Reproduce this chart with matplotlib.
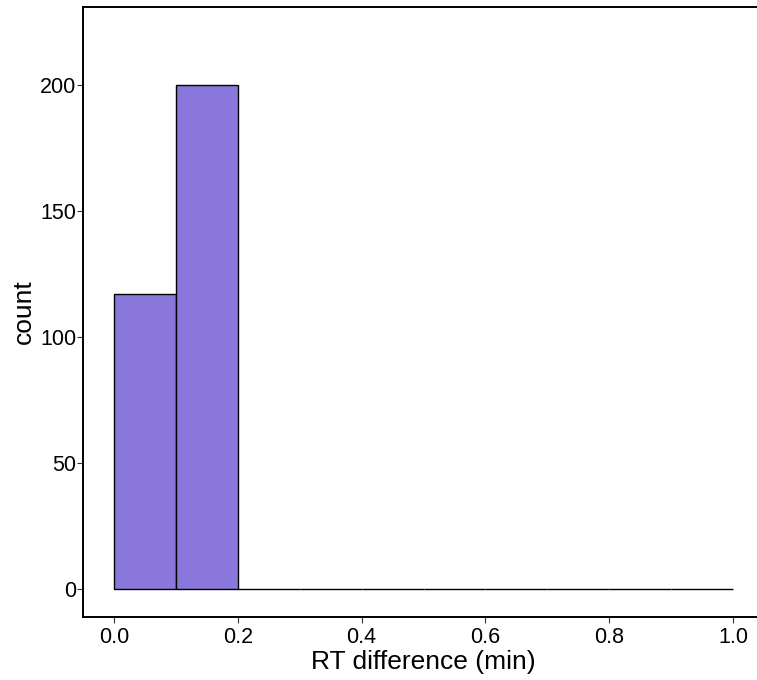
import numpy as np
import matplotlib
matplotlib.use("Agg")
import matplotlib.pyplot as plt

# histogram of RT differences, bin width 0.1 min
bin_edges = [0.0, 0.1, 0.2, 0.3, 0.4, 0.5, 0.6, 0.7, 0.8, 0.9, 1.0]
counts = [117, 200, 0, 0, 0, 0, 0, 0, 0, 0]
x_ticks = [0.0, 0.2, 0.4, 0.6, 0.8, 1.0]
y_ticks = [0, 50, 100, 150, 200]

plt.rcParams['font.family'] = ['Liberation Sans', 'DejaVu Sans']

fig = plt.figure(figsize=(7.57, 6.8), dpi=100)
ax = fig.add_axes([83 / 757, 63 / 680, 681 / 757, 610 / 680])

lefts = np.array(bin_edges[:-1])
widths = np.diff(bin_edges)
ax.bar(lefts, counts, width=widths, align='edge', color='#8a77db',
       edgecolor='black', linewidth=1.0)

ax.set_xlim(-0.05, 1.05)
ax.set_ylim(-11, 231)
ax.set_xticks(x_ticks)
ax.set_xticklabels([f"{t:.1f}" for t in x_ticks])
ax.set_yticks(y_ticks)

ax.spines['right'].set_visible(False)
for side in ['left', 'bottom', 'top']:
    ax.spines[side].set_linewidth(1.4)
    ax.spines[side].set_color('black')

ax.tick_params(axis='both', length=4, width=0.8, color='#333333',
               labelsize=15.5, labelcolor='black')
ax.tick_params(axis='y', pad=1)
ax.tick_params(axis='x', pad=3)
ax.set_xlabel('RT difference (min)', fontsize=19, labelpad=2)
ax.set_ylabel('count', fontsize=19, labelpad=3)

fig.savefig('out.png', dpi=100)
